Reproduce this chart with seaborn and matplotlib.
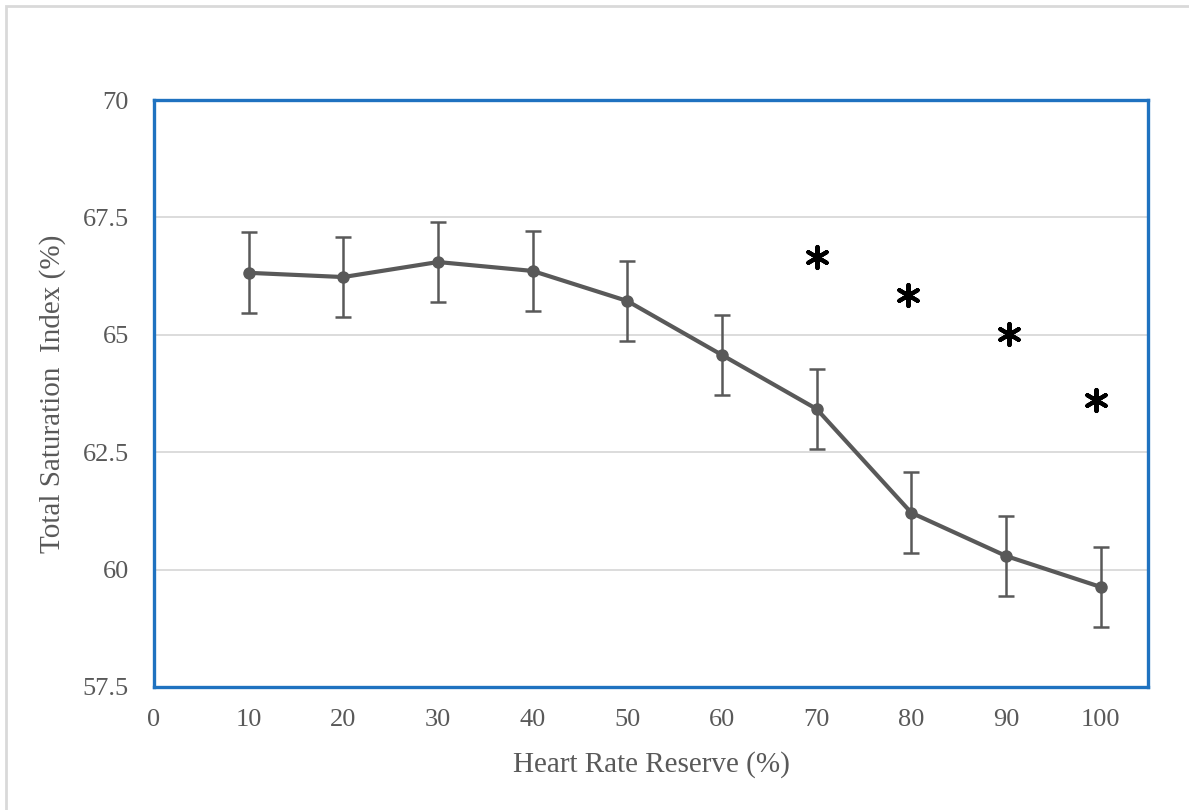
import numpy as np
import pandas as pd
import matplotlib
matplotlib.use("Agg")
import matplotlib.pyplot as plt
import seaborn as sns

# values
hrr = [10, 20, 30, 40, 50, 60, 70, 80, 90, 100]
tsi = [66.32, 66.23, 66.55, 66.36, 65.72, 64.57, 63.42, 61.21, 60.29, 59.63]
err = [0.86, 0.85, 0.86, 0.86, 0.85, 0.85, 0.85, 0.86, 0.86, 0.86]
star_x = [70, 79.7, 90.3, 99.5]
star_y = [66.66, 65.85, 65.02, 63.61]

df = pd.DataFrame({"hrr": hrr, "tsi": tsi, "err": err})
stars = pd.DataFrame({"x": star_x, "y": star_y})

sns.set_style("white")
plt.rcParams["font.family"] = ["Liberation Serif", "DejaVu Serif"]

gray = "#595959"
blue = "#1F72C0"

fig = plt.figure(figsize=(11.89, 8.10), dpi=100)
ax = fig.add_axes([0.1295, 0.1519, 0.8360, 0.7246])

ax.set_axisbelow(True)
ax.yaxis.grid(True, color="#D9D9D9", linewidth=1.3)
ax.xaxis.grid(False)

ax.errorbar(df["hrr"], df["tsi"], yerr=df["err"], fmt="none",
            ecolor=gray, elinewidth=1.8, capsize=6, capthick=1.8, zorder=2)
sns.lineplot(data=df, x="hrr", y="tsi", ax=ax, color=gray, linewidth=3,
             marker="o", markersize=9, markeredgewidth=0, zorder=3)

# significance asterisks
sns.scatterplot(data=stars, x="x", y="y", ax=ax, marker=(6, 2, 0), s=230,
                color="black", edgecolor="black", linewidth=3, zorder=4)

ax.set_xlim(0, 105)
ax.set_ylim(57.5, 70)
ax.set_xticks(range(0, 101, 10))
ax.set_yticks([57.5, 60, 62.5, 65, 67.5, 70])
ax.set_yticklabels(["57.5", "60", "62.5", "65", "67.5", "70"])

for s in ax.spines.values():
    s.set_visible(True)
    s.set_color(blue)
    s.set_linewidth(2.4)

ax.tick_params(axis="x", direction="out", length=6, width=1.5, color=blue,
               labelsize=19, labelcolor=gray, pad=10)
ax.tick_params(axis="y", length=0, labelsize=19, labelcolor=gray, pad=18)

ax.set_xlabel("Heart Rate Reserve (%)", fontsize=21, color=gray, labelpad=14)
ax.set_ylabel("Total Saturation  Index (%)", fontsize=21, color=gray, labelpad=12)

# light outer frame of the chart area
fig.add_artist(plt.Rectangle((6 / 1189, -0.05), 1.2, 1 - 6 / 810 + 0.05,
                             transform=fig.transFigure, fill=False,
                             edgecolor="#D9D9D9", linewidth=2))

fig.savefig("out.png", dpi=100)
